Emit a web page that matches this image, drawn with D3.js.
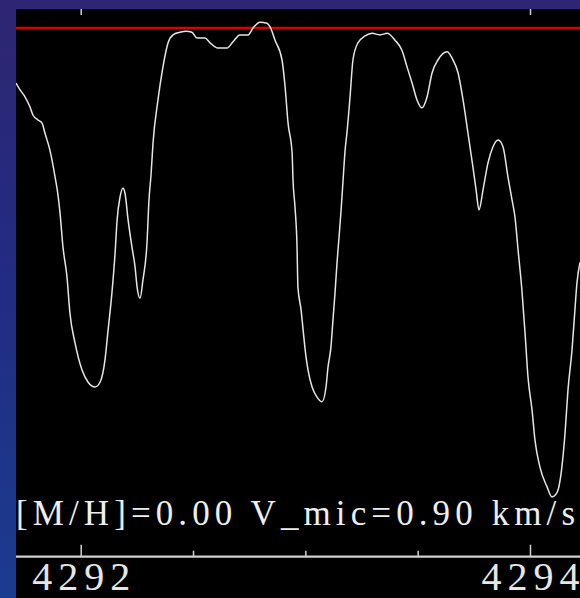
<!DOCTYPE html>
<html>
<head>
<meta charset="utf-8">
<script src="https://cdn.jsdelivr.net/npm/d3@7"></script>
<style>
  html, body { margin: 0; padding: 0; background: #000; }
  svg { display: block; }
</style>
</head>
<body>
<svg id="chart" width="580" height="598"></svg>
<script>
// ---- data ----
const wavelength = [
  4291.712, 4291.730, 4291.752, 4291.774, 4291.788, 4291.810, 4291.828, 4291.841, 4291.863, 4291.886,
  4291.899, 4291.908, 4291.921, 4291.939, 4291.952, 4291.975, 4292.006, 4292.033, 4292.064, 4292.086,
  4292.108, 4292.122, 4292.139, 4292.153, 4292.162, 4292.175, 4292.188, 4292.197, 4292.211, 4292.228,
  4292.242, 4292.251, 4292.264, 4292.277, 4292.295, 4292.304, 4292.313, 4292.322, 4292.344, 4292.366,
  4292.389, 4292.411, 4292.442, 4292.469, 4292.495, 4292.518, 4292.553, 4292.576, 4292.611, 4292.651,
  4292.678, 4292.709, 4292.745, 4292.767, 4292.798, 4292.829, 4292.843, 4292.865, 4292.896, 4292.910,
  4292.923, 4292.941, 4292.945, 4292.954, 4292.963, 4292.967, 4292.981, 4292.990, 4293.003, 4293.012,
  4293.030, 4293.052, 4293.074, 4293.092, 4293.101, 4293.114, 4293.123, 4293.132, 4293.141, 4293.150,
  4293.159, 4293.168, 4293.177, 4293.185, 4293.199, 4293.212, 4293.234, 4293.266, 4293.297, 4293.332,
  4293.364, 4293.399, 4293.430, 4293.453, 4293.475, 4293.497, 4293.519, 4293.542, 4293.564, 4293.591,
  4293.631, 4293.653, 4293.680, 4293.702, 4293.724, 4293.746, 4293.760, 4293.773, 4293.791, 4293.813,
  4293.835, 4293.858, 4293.880, 4293.902, 4293.920, 4293.933, 4293.947, 4293.964, 4293.978, 4293.991,
  4294.009, 4294.022, 4294.044, 4294.076, 4294.098, 4294.120, 4294.142, 4294.156, 4294.169, 4294.187,
  4294.200, 4294.209, 4294.223
];
const flux = [
  0.896, 0.883, 0.870, 0.851, 0.835, 0.826, 0.820, 0.801, 0.769, 0.718,
  0.684, 0.650, 0.586, 0.529, 0.461, 0.404, 0.353, 0.330, 0.321, 0.330,
  0.372, 0.429, 0.499, 0.574, 0.637, 0.680, 0.697, 0.688, 0.637, 0.586,
  0.548, 0.510, 0.489, 0.523, 0.593, 0.675, 0.722, 0.783, 0.864, 0.926,
  0.972, 0.987, 0.992, 0.994, 0.992, 0.981, 0.981, 0.972, 0.962, 0.962,
  0.974, 0.987, 0.987, 1.000, 1.011, 1.009, 1.002, 0.977, 0.940, 0.888,
  0.820, 0.764, 0.713, 0.661, 0.586, 0.510, 0.467, 0.429, 0.378, 0.353,
  0.321, 0.302, 0.293, 0.321, 0.359, 0.397, 0.448, 0.499, 0.556, 0.605,
  0.655, 0.713, 0.769, 0.801, 0.870, 0.940, 0.972, 0.985, 0.990, 0.987,
  0.990, 0.977, 0.958, 0.926, 0.896, 0.864, 0.849, 0.870, 0.915, 0.940,
  0.955, 0.943, 0.915, 0.864, 0.801, 0.737, 0.694, 0.656, 0.694, 0.745,
  0.775, 0.788, 0.775, 0.718, 0.675, 0.643, 0.580, 0.504, 0.423, 0.340,
  0.278, 0.221, 0.170, 0.132, 0.113, 0.121, 0.170, 0.234, 0.315, 0.391,
  0.467, 0.518, 0.557
];
const continuumLevel = [1.0];
const majorTicks = [4292, 4294];
const majorTickLabels = ["4292", "4294"];
const minorTicks = [4292.5, 4293, 4293.5];
const annotation = "[M/H]=0.00 V_mic=0.90 km/s";

// ---- layout ----
const W = 580, H = 598;
const plot = { left: 16, top: 9, right: 580, bottom: 556.7 };

const svg = d3.select("#chart");
const defs = svg.append("defs");
const grad = defs.append("linearGradient").attr("id", "bg")
  .attr("x1", 0).attr("y1", 0).attr("x2", 0).attr("y2", 1);
grad.append("stop").attr("offset", "0%").attr("stop-color", "#2e2673");
grad.append("stop").attr("offset", "45%").attr("stop-color", "#222b82");
grad.append("stop").attr("offset", "100%").attr("stop-color", "#1a3c90");
defs.append("clipPath").attr("id", "clip").append("rect")
  .attr("x", plot.left).attr("y", plot.top)
  .attr("width", plot.right - plot.left).attr("height", plot.bottom - plot.top);

svg.append("rect").attr("width", W).attr("height", H).attr("fill", "url(#bg)");
svg.append("rect").attr("x", plot.left).attr("y", plot.top)
  .attr("width", W - plot.left).attr("height", H - plot.top).attr("fill", "#000");

const x = d3.scaleLinear().domain([4292, 4294]).range([80.7, 530]);
const y = d3.scaleLinear().domain([0, 1.036]).range([plot.bottom, plot.top]);

// continuum (red) line
svg.append("g").selectAll("line").data(continuumLevel).join("line")
  .attr("x1", plot.left).attr("x2", plot.right)
  .attr("y1", d => y(d)).attr("y2", d => y(d))
  .attr("stroke", "#d80000").attr("stroke-width", 2.6);

// spectrum
const pts = wavelength.map((w, i) => [w, flux[i]]);
const line = d3.line().x(d => x(d[0])).y(d => y(d[1])).curve(d3.curveMonotoneX);
svg.append("path").datum(pts)
  .attr("clip-path", "url(#clip)")
  .attr("d", line)
  .attr("fill", "none").attr("stroke", "#e6e6e6").attr("stroke-width", 1.5)
  .attr("stroke-linejoin", "round");

// annotation
svg.append("text")
  .attr("x", plot.left).attr("y", 525)
  .attr("font-family", "'Liberation Serif', 'DejaVu Serif', serif")
  .attr("font-size", 35)
  .attr("fill", "#eeeeee")
  .attr("textLength", 559).attr("lengthAdjust", "spacing")
  .text(annotation);

// bottom axis: major ticks with labels
const axisMajor = d3.axisBottom(x).tickValues(majorTicks)
  .tickFormat((d, i) => majorTickLabels[i]).tickSizeInner(-12).tickSizeOuter(0).tickPadding(20);
const gMaj = svg.append("g").attr("transform", `translate(0,${plot.bottom})`).call(axisMajor);
gMaj.select(".domain").remove();
gMaj.selectAll(".tick line").attr("stroke", "#d0d0d0").attr("stroke-width", 1.5);
gMaj.selectAll(".tick text")
  .attr("fill", "#e6e6e6")
  .attr("font-family", "'Liberation Serif', 'DejaVu Serif', serif")
  .attr("font-size", 40)
  .attr("dy", null).attr("y", 33)
  .attr("textLength", 98).attr("lengthAdjust", "spacing");

// minor ticks
const axisMinor = d3.axisBottom(x).tickValues(minorTicks).tickFormat("")
  .tickSizeInner(-6).tickSizeOuter(0);
const gMin = svg.append("g").attr("transform", `translate(0,${plot.bottom})`).call(axisMinor);
gMin.select(".domain").remove();
gMin.selectAll(".tick line").attr("stroke", "#d0d0d0").attr("stroke-width", 1.5);

// axis baseline
svg.append("line").attr("x1", plot.left).attr("x2", plot.right)
  .attr("y1", plot.bottom).attr("y2", plot.bottom)
  .attr("stroke", "#d0d0d0").attr("stroke-width", 2.2);

// top ticks
const axisTop = d3.axisTop(x).tickValues(majorTicks).tickFormat("")
  .tickSizeInner(-6).tickSizeOuter(0);
const gTop = svg.append("g").attr("transform", `translate(0,${plot.top})`).call(axisTop);
gTop.select(".domain").remove();
gTop.selectAll(".tick line").attr("stroke", "#d0d0d0").attr("stroke-width", 1.5);
</script>
</body>
</html>
